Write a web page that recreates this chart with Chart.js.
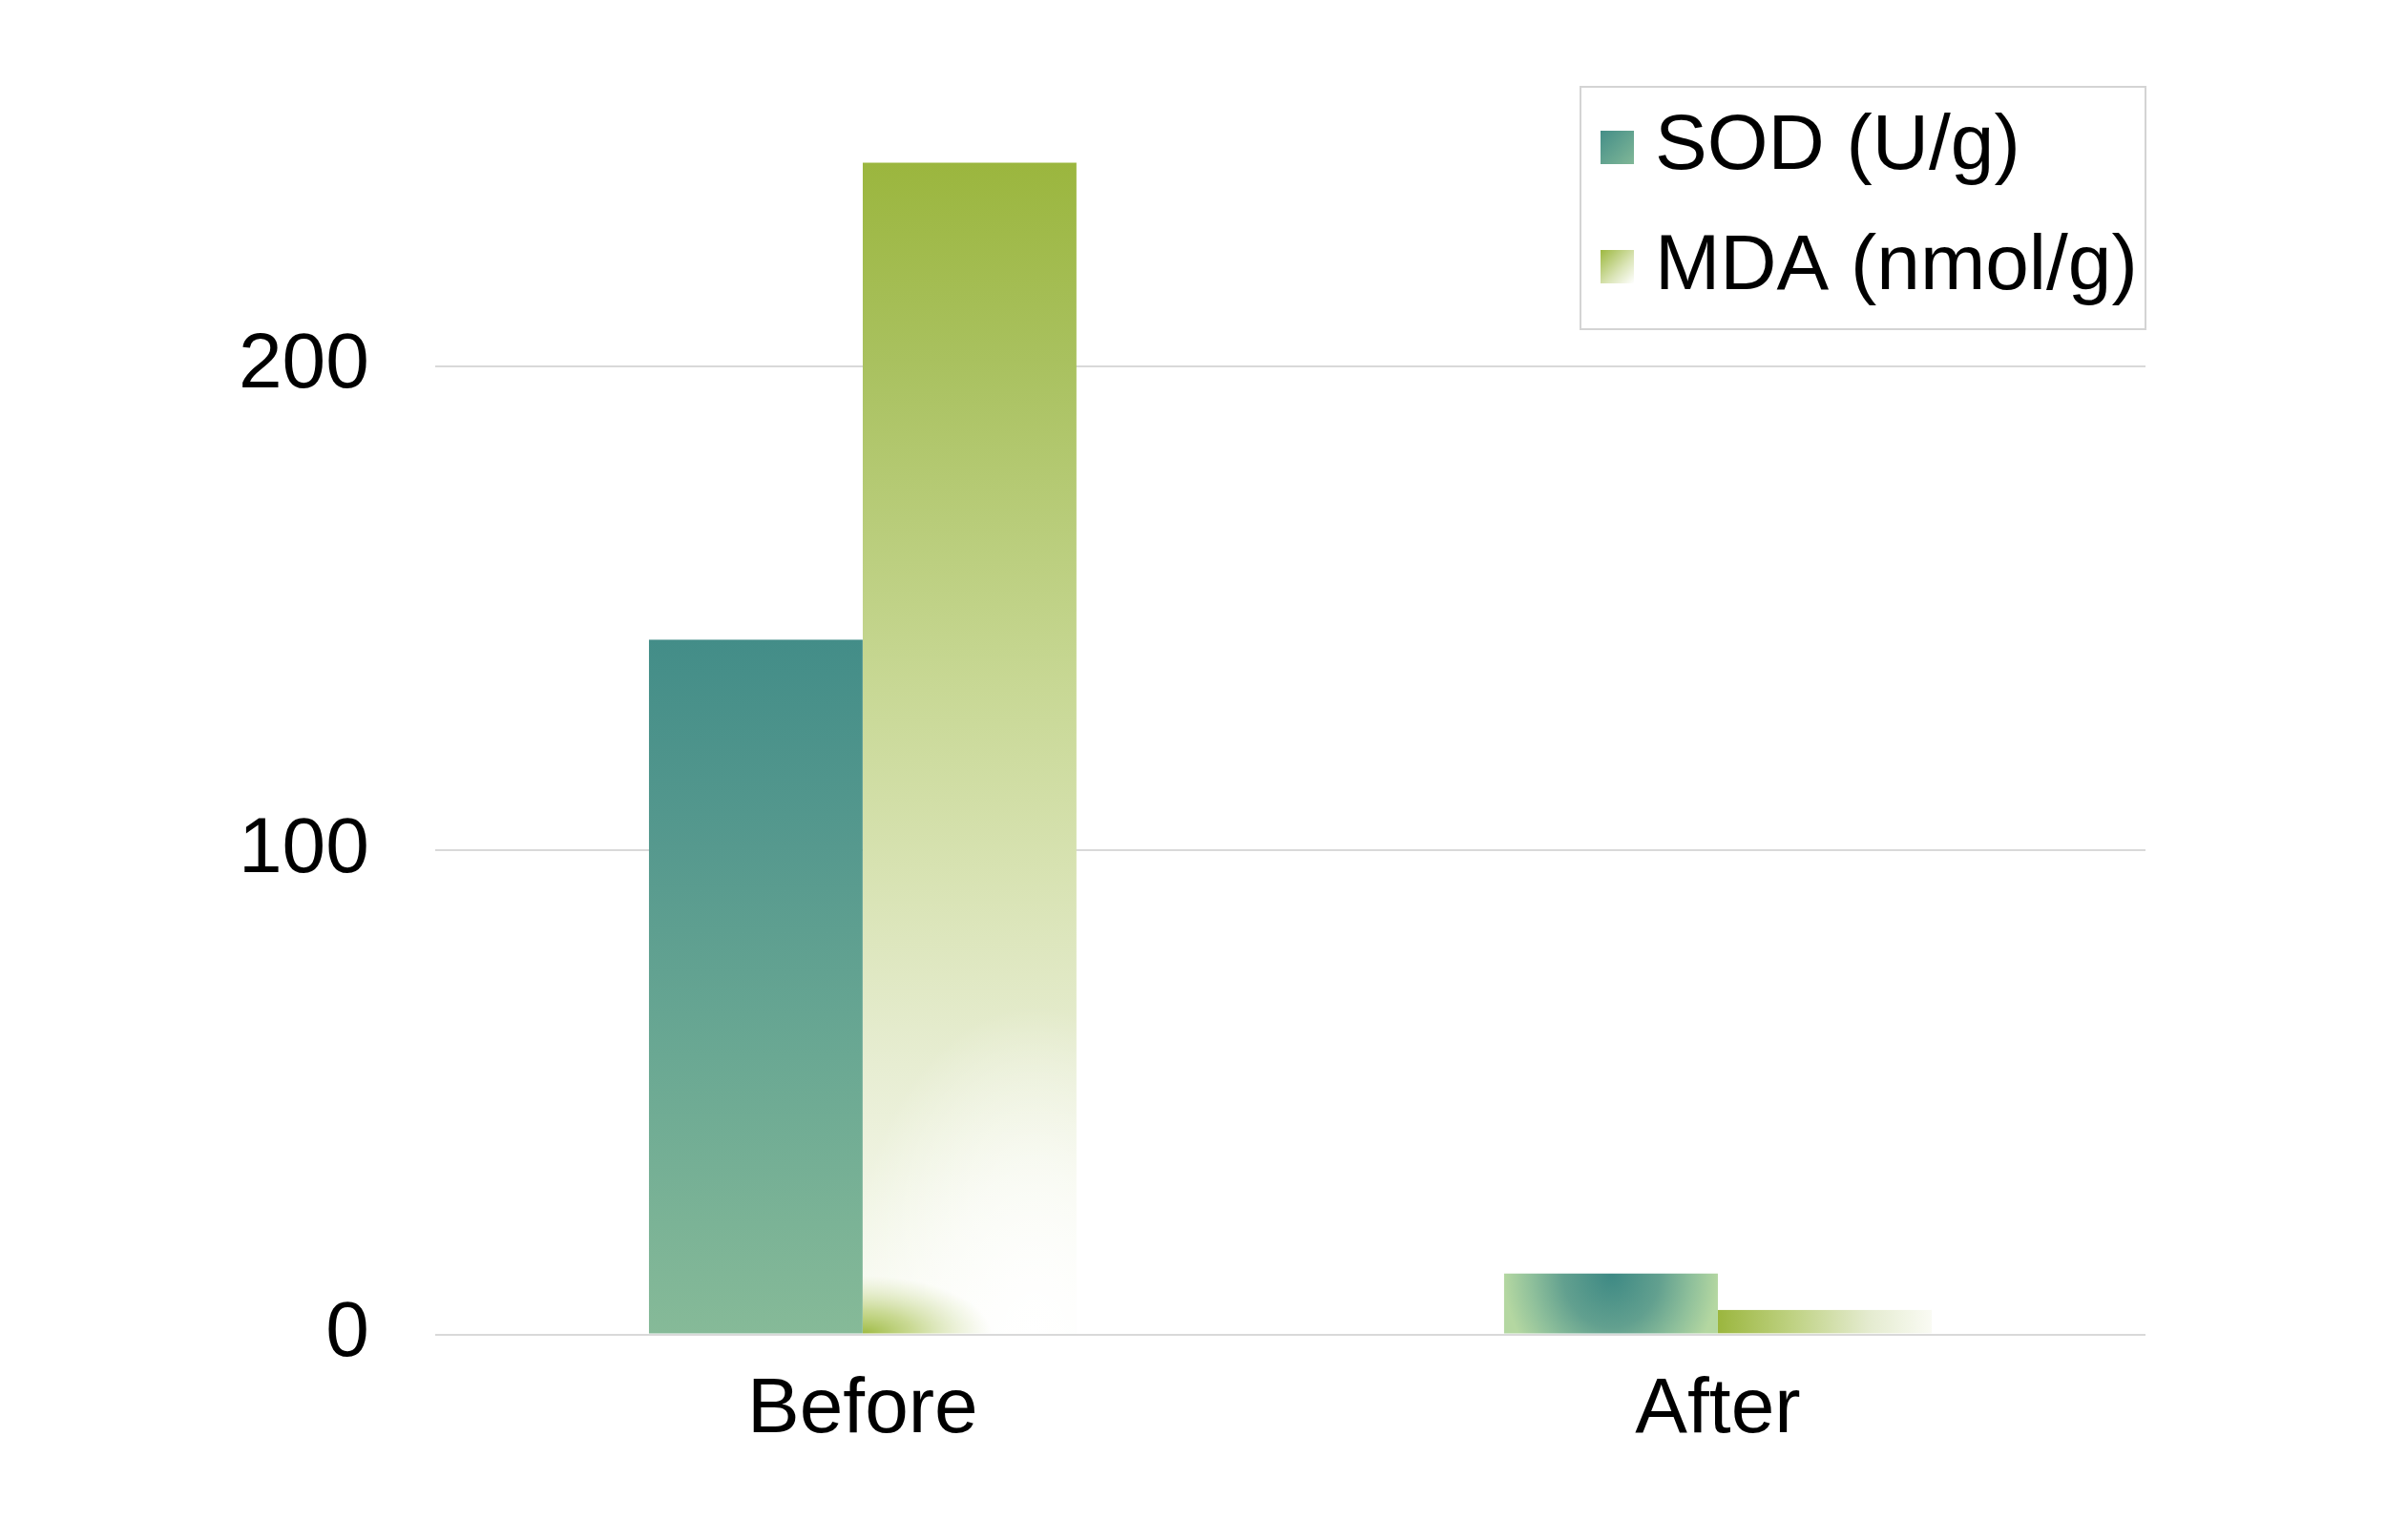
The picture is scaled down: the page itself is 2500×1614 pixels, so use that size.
<!DOCTYPE html>
<html>
<head>
<meta charset="utf-8">
<script src="https://cdn.jsdelivr.net/npm/chart.js@4"></script>
<style>
  html, body { margin: 0; padding: 0; background: #fff; }
  canvas { display: block; }
</style>
</head>
<body>
<canvas id="myChart" width="2500" height="1614"></canvas>
<script>
// values
const categories = ['Before', 'After'];
const seriesLabels = ['SOD (U/g)', 'MDA (nmol/g)'];
const sodValues = [143.5, 12.6];
const mdaValues = [242, 5.1];
const yTicks = [0, 100, 200];

const FONT = '"Liberation Sans", Arial, Helvetica, sans-serif';

// fill styles per bar (dataset -> point)
const fillKinds = [['sodLinear', 'sodRadial'], ['mdaTall', 'mdaWide']];

const paint = (g, w, h, kind) => {
    if (kind === 'sodLinear') {
        const lg = g.createLinearGradient(0, 0, 0, h);
        lg.addColorStop(0, '#438d88');
        lg.addColorStop(0.3, '#56998e');
        lg.addColorStop(0.6, '#6aa893');
        lg.addColorStop(1, '#86ba98');
        g.fillStyle = lg;
        g.fillRect(0, 0, w, h);
    } else if (kind === 'sodRadial') {
        g.save();
        g.translate(w / 2, 0);
        g.scale(w / 2, h * 2);
        const rg = g.createRadialGradient(0, 0, 0, 0, 0, 1);
        rg.addColorStop(0, '#3d8984');
        rg.addColorStop(0.45, '#62a08f');
        rg.addColorStop(0.75, '#8fc09b');
        rg.addColorStop(1, '#b4d7a1');
        g.fillStyle = rg;
        g.fillRect(-1.2, -0.1, 2.4, 0.8);
        g.restore();
    } else if (kind === 'mdaTall') {
        const lg = g.createLinearGradient(0, 0, 0, h);
        lg.addColorStop(0, '#9bb63e');
        lg.addColorStop(0.17, '#a9c15f');
        lg.addColorStop(0.45, '#c8d895');
        lg.addColorStop(0.6, '#d7e2b1');
        lg.addColorStop(0.77, '#e7edd2');
        lg.addColorStop(0.92, '#f4f7ea');
        lg.addColorStop(1, '#fbfcf6');
        g.fillStyle = lg;
        g.fillRect(0, 0, w, h);
        // white glow near the bottom right
        g.save();
        g.translate(w * 0.8, h);
        g.scale(w * 0.9, h * 0.28);
        const wg = g.createRadialGradient(0, 0, 0, 0, 0, 1);
        wg.addColorStop(0, 'rgba(255,255,255,1)');
        wg.addColorStop(0.5, 'rgba(255,255,255,0.6)');
        wg.addColorStop(1, 'rgba(255,255,255,0)');
        g.fillStyle = wg;
        g.fillRect(-2, -1.2, 4, 1.4);
        g.restore();
        // green corner bottom left
        g.save();
        g.translate(0, h);
        g.scale(w * 0.6, h * 0.05);
        const cg = g.createRadialGradient(0, 0, 0, 0, 0, 1);
        cg.addColorStop(0, 'rgba(158,186,66,1)');
        cg.addColorStop(0.4, 'rgba(175,199,95,0.65)');
        cg.addColorStop(1, 'rgba(200,216,150,0)');
        g.fillStyle = cg;
        g.fillRect(-0.1, -1.2, 2, 1.4);
        g.restore();
    } else {
        const lg = g.createLinearGradient(0, 0, w, 0);
        lg.addColorStop(0, '#9bb63e');
        lg.addColorStop(0.35, '#bfd283');
        lg.addColorStop(0.7, '#e4ebcf');
        lg.addColorStop(1, '#fafbf4');
        g.fillStyle = lg;
        g.fillRect(0, 0, w, h);
    }
};

const barFills = {
    id: 'barFills',
    afterDatasetsUpdate(chart) {
        chart.data.datasets.forEach((ds, di) => {
            const meta = chart.getDatasetMeta(di);
            meta.data.forEach((el, i) => {
                const p = el.getProps(['x', 'y', 'base', 'width'], true);
                const left = p.x - p.width / 2;
                const top = Math.min(p.y, p.base);
                const w = Math.ceil(p.width) + 2;
                const h = Math.ceil(Math.abs(p.base - p.y)) + 2;
                const off = document.createElement('canvas');
                off.width = w;
                off.height = h;
                const g = off.getContext('2d');
                g.translate(1, 1);
                paint(g, w - 2, h - 2, fillKinds[di][i]);
                const pat = chart.ctx.createPattern(off, 'no-repeat');
                pat.setTransform(new DOMMatrix().translate(left - 1, top - 1));
                el.options = Object.assign({}, el.options, { backgroundColor: pat });
            });
        });
    }
};

const boxLegend = {
    id: 'boxLegend',
    afterDraw(chart) {
        const ctx = chart.ctx;
        const area = chart.chartArea;
        const bw = 592, bh = 254;
        const bx = area.right - bw;
        const by = area.top + 12;
        ctx.save();
        ctx.fillStyle = '#ffffff';
        ctx.fillRect(bx, by, bw, bh);
        ctx.strokeStyle = '#d4d4d4';
        ctx.lineWidth = 2;
        ctx.strokeRect(bx, by, bw, bh);
        const swatchY = [46, 171];
        const textY = [86, 212];
        chart.data.datasets.forEach((ds, i) => {
            const sx = bx + 21, sy = by + swatchY[i], s = 35;
            const lg = ctx.createLinearGradient(sx, sy, sx + s, sy + s);
            if (i === 0) {
                lg.addColorStop(0, '#448e88');
                lg.addColorStop(1, '#80b797');
            } else {
                lg.addColorStop(0, '#9db840');
                lg.addColorStop(0.6, '#dbe5b8');
                lg.addColorStop(1, '#ffffff');
            }
            ctx.fillStyle = lg;
            ctx.fillRect(sx, sy, s, s);
            ctx.fillStyle = '#000';
            ctx.font = '82px ' + FONT;
            ctx.textBaseline = 'alphabetic';
            ctx.textAlign = 'left';
            ctx.fillText(ds.label, bx + 78, by + textY[i]);
        });
        ctx.restore();
    }
};

const ctx = document.getElementById('myChart').getContext('2d');
new Chart(ctx, {
    type: 'bar',
    data: {
        labels: categories,
        datasets: [
            { label: seriesLabels[0], data: sodValues, borderWidth: 0 },
            { label: seriesLabels[1], data: mdaValues, borderWidth: 0 }
        ]
    },
    options: {
        responsive: false,
        devicePixelRatio: 1,
        animation: false,
        layout: { padding: { left: 181, right: 252, top: 79, bottom: 63 } },
        datasets: { bar: { categoryPercentage: 0.5, barPercentage: 1.0 } },
        plugins: {
            legend: { display: false },
            tooltip: { enabled: false }
        },
        scales: {
            x: {
                grid: { display: false },
                border: { display: false },
                ticks: { color: '#000', font: { family: FONT, size: 82 }, padding: 23 }
            },
            y: {
                min: 0,
                max: 260,
                afterBuildTicks: (axis) => { axis.ticks = yTicks.map(v => ({ value: v })); },
                grid: { color: '#d9d9d9', lineWidth: 2, drawTicks: false },
                border: { display: false },
                ticks: { color: '#000', font: { family: FONT, size: 82, lineHeight: 0.1 }, padding: 69 }
            }
        }
    },
    plugins: [barFills, boxLegend]
});
</script>
</body>
</html>
